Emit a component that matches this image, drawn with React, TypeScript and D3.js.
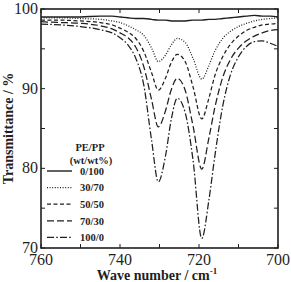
import * as d3 from 'd3';

// IR transmittance of PE/PP blends in the CH2 rocking region
const wavenumbers = [760, 755, 750, 745, 742, 740, 738, 736, 734, 732, 730.3, 728.5, 727, 725.5, 723.5, 721.5, 719.3, 717.5, 716, 714, 712, 710, 708, 706, 704, 702, 700];

const blend0_100 = [99.0, 99.0, 99.0, 99.1, 99.1, 99.0, 98.9, 98.8, 98.8, 98.7, 98.6, 98.6, 98.5, 98.5, 98.5, 98.6, 98.6, 98.7, 98.7, 98.8, 98.9, 99.0, 99.1, 99.2, 99.1, 99.1, 99.0];
const blend30_70 = [98.9, 98.9, 98.8, 98.7, 98.5, 98.3, 97.9, 97.4, 96.7, 95.1, 93.4, 94.2, 95.5, 96.3, 95.8, 93.8, 91.2, 92.9, 94.7, 96.3, 97.2, 97.8, 98.2, 98.5, 98.7, 98.8, 98.9];
const blend50_50 = [98.6, 98.6, 98.5, 98.3, 98.0, 97.6, 97.1, 96.3, 94.7, 92.0, 89.8, 91.3, 93.3, 94.3, 93.4, 90.2, 86.2, 88.8, 91.6, 94.0, 95.6, 96.6, 97.3, 97.7, 98.0, 98.1, 98.2];
const blend70_30 = [98.4, 98.3, 98.2, 97.9, 97.5, 97.0, 96.4, 95.2, 92.8, 88.6, 85.2, 87.2, 89.9, 91.3, 89.8, 85.3, 79.9, 83.8, 87.6, 91.4, 93.7, 95.1, 96.0, 96.6, 97.0, 97.3, 97.4];
const blend100_0 = [98.1, 98.0, 97.8, 97.4, 97.0, 96.4, 95.5, 93.8, 90.5, 83.5, 78.3, 81.5, 86.2, 88.8, 87.0, 81.0, 71.2, 76.0, 81.5, 87.8, 91.8, 94.0, 95.3, 95.9, 96.0, 95.7, 95.3];

const seriesLabels = ['0/100', '30/70', '50/50', '70/30', '100/0'];
const seriesValues = [blend0_100, blend30_70, blend50_50, blend70_30, blend100_0];
const dashes = ['', '1,1.6', '4,2.5', '7,3', '7,2.2,1.6,2.2'];

const xTicks = [760, 750, 740, 730, 720, 710, 700];
const xLabels = [760, 740, 720, 700];
const yTicks = [70, 75, 80, 85, 90, 95, 100];
const yLabels = [70, 80, 90, 100];

const width = 291;
const height = 282;
const margin = { top: 9, right: 13, bottom: 34, left: 41 };
const ink = '#1f1f1f';
const serif = 'Liberation Serif';

export default function App() {
  const x = d3.scaleLinear().domain([760, 700]).range([margin.left, width - margin.right]);
  const y = d3.scaleLinear().domain([70, 100]).range([height - margin.bottom, margin.top]);
  const [x0, x1] = x.range();
  const [y0, y1] = y.range();

  const line = d3.line<number>()
    .x((_, i) => x(wavenumbers[i]))
    .y(d => y(d))
    .curve(d3.curveMonotoneX);

  const tick = 4;

  return (
    <svg width={width} height={height} style={{ position: 'absolute', left: 0, top: 0, background: '#fff' }}>
      {/* inward ticks on all four sides */}
      <g stroke={ink} strokeWidth={1}>
        {xTicks.map(t => (
          <g key={'x' + t}>
            <line x1={x(t)} x2={x(t)} y1={y0} y2={y0 - tick} />
            <line x1={x(t)} x2={x(t)} y1={y1} y2={y1 + tick} />
          </g>
        ))}
        {yTicks.map(t => (
          <g key={'y' + t}>
            <line x1={x0} x2={x0 + tick} y1={y(t)} y2={y(t)} />
            <line x1={x1} x2={x1 - tick} y1={y(t)} y2={y(t)} />
          </g>
        ))}
      </g>

      {/* tick labels */}
      <g style={{ fontFamily: serif, fontSize: '16px' }} fill={ink}>
        {xLabels.map(t => (
          <text key={'xl' + t} x={x(t)} y={y0 + 16.5} textAnchor="middle">{t}</text>
        ))}
        {yLabels.map(t => (
          <text key={'yl' + t} x={x0 - 3} y={y(t) + 5} textAnchor="end">{t}</text>
        ))}
      </g>

      {/* spectra */}
      <g fill="none" stroke={ink}>
        {seriesValues.map((s, i) => (
          <path key={seriesLabels[i]} d={line(s) ?? ''} strokeWidth={i === 0 ? 1.4 : 1.25} strokeDasharray={dashes[i] || undefined} />
        ))}
      </g>

      {/* frame */}
      <rect x={x0} y={y1} width={x1 - x0} height={y0 - y1} fill="none" stroke={ink} strokeWidth={1.6} />

      {/* axis titles */}
      <text x={157} y={279.5} textAnchor="middle" fill={ink} style={{ fontFamily: serif, fontWeight: 'bold', fontSize: '14px' }}>
        Wave number / cm<tspan dy={-6} style={{ fontSize: '9px' }}>-1</tspan>
      </text>
      <text transform={`translate(13,${(y0 + y1) / 2}) rotate(-90)`} textAnchor="middle" fill={ink}
        style={{ fontFamily: serif, fontWeight: 'bold', fontSize: '14px' }}>
        Transmittance / %
      </text>

      {/* legend */}
      <g style={{ fontFamily: serif, fontWeight: 'bold', fontSize: '10.5px' }} fill={ink}>
        <text x={90} y={151} textAnchor="middle">PE/PP</text>
        <text x={91} y={164} textAnchor="middle">(wt/wt%)</text>
        {seriesLabels.map((label, i) => (
          <g key={label} transform={`translate(0,${171 + i * 16.6})`}>
            <line x1={47} x2={72} stroke={ink} strokeWidth={i === 0 ? 1.4 : 1.25} strokeDasharray={dashes[i] || undefined} />
            <text x={80} y={3.8}>{label}</text>
          </g>
        ))}
      </g>
    </svg>
  );
}
